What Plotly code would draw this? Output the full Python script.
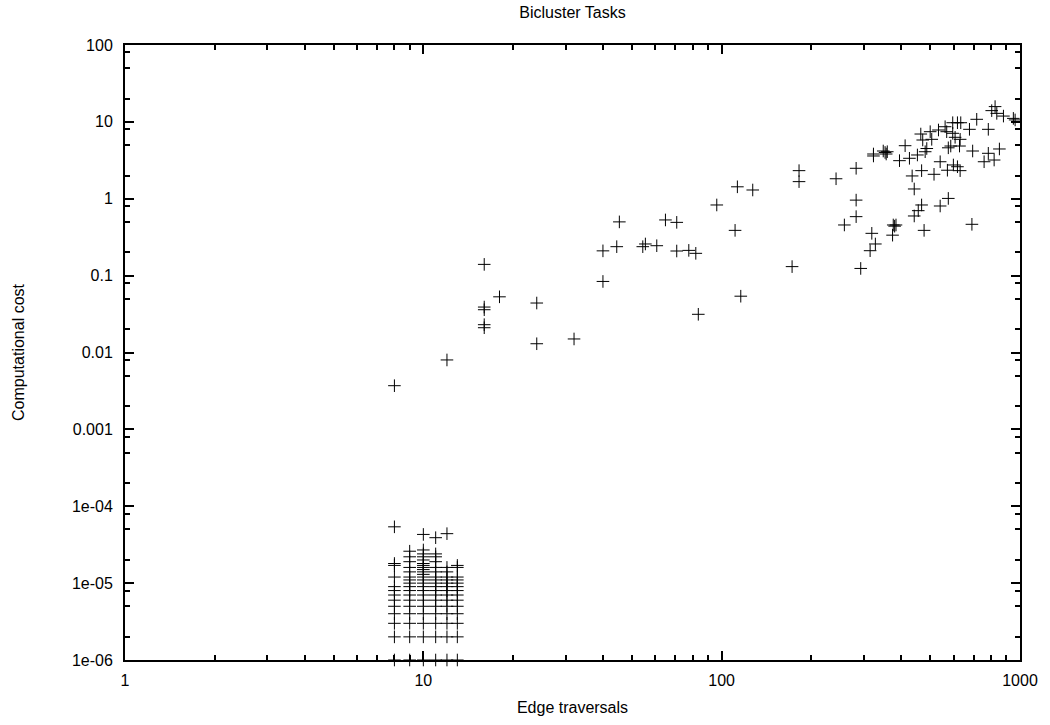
import plotly.graph_objects as go

# Tasks with measurable cost: (edge traversals, computational cost)
edge_traversals = [
    8, 12, 16, 16, 16, 16, 16, 18, 24, 24, 32,
    40, 40, 44.5, 45.4, 54.4, 55.5, 60.6, 64.8, 70.7, 70.7, 77.6, 81.9, 83.5,
    96.3, 110.9, 112.9, 115.9, 127.1, 172.2, 181.7, 181.7, 241.8, 257.8,
    282.3, 282.3, 282.3, 292.5, 314.5, 318.6, 327.5, 322.7, 322.7,
    348, 353, 356, 359, 374, 376, 380, 384, 394.5, 412, 426, 435, 442, 442,
    453, 456, 465, 468, 468, 472, 477, 481, 487, 500, 506, 515, 533, 540, 540,
    561, 568, 571, 575, 575, 586, 595, 595, 598, 606, 617, 617, 627, 630, 630,
    633, 677, 690, 694, 716, 758, 783, 783, 804, 819, 825, 836, 853, 880,
    950, 963,
]
computational_cost = [
    0.0037, 0.008, 0.14, 0.039, 0.036, 0.023, 0.021, 0.053, 0.044, 0.013, 0.015,
    0.21, 0.084, 0.238, 0.50, 0.238, 0.258, 0.245, 0.53, 0.493, 0.209, 0.213, 0.195, 0.0314,
    0.83, 0.388, 1.43, 0.054, 1.30, 0.131, 2.32, 1.67, 1.82, 0.456,
    2.49, 0.96, 0.585, 0.124, 0.211, 0.355, 0.258, 3.82, 3.6,
    4.18, 4.0, 3.82, 4.09, 0.336, 0.456, 0.44, 0.456, 3.13, 4.9, 3.36, 1.98, 1.34, 0.597,
    3.71, 0.70, 6.95, 2.32, 0.83, 5.81, 0.388, 4.09, 4.5, 7.45, 5.93, 2.08, 7.84, 3.03, 0.805,
    8.65, 7.45, 2.35, 4.6, 1.01, 4.85, 9.75, 7.1, 2.75, 6.3, 9.75, 2.61, 4.85, 5.93, 2.32,
    9.75, 8.0, 0.465, 4.18, 10.8, 3.03, 8.0, 3.9, 14.0, 3.19, 15.8, 12.9, 4.44, 11.9,
    11.1, 10.6,
]

# Very short tasks, timed at microsecond resolution, grouped by edge traversals
short_tasks = {
    8: [1e-06, 2e-06, 3e-06, 4e-06, 5e-06, 6e-06, 7e-06, 8e-06, 9e-06,
        1.2e-05, 1.7e-05, 1.8e-05, 5.4e-05],
    9: [1e-06, 2e-06, 3e-06, 4e-06, 5e-06, 6e-06, 7e-06, 8e-06, 9e-06,
        1e-05, 1.1e-05, 1.2e-05, 1.4e-05, 1.6e-05, 1.9e-05, 2.2e-05, 2.6e-05],
    10: [1e-06, 2e-06, 3e-06, 4e-06, 5e-06, 6e-06, 7e-06, 8e-06, 9e-06,
         1e-05, 1.1e-05, 1.2e-05, 1.3e-05, 1.4e-05, 1.5e-05, 1.6e-05, 1.7e-05,
         1.8e-05, 2e-05, 2.2e-05, 2.4e-05, 2.7e-05, 4.3e-05],
    11: [1e-06, 2e-06, 3e-06, 4e-06, 5e-06, 6e-06, 7e-06, 8e-06, 9e-06,
         1e-05, 1.1e-05, 1.2e-05, 1.4e-05, 1.6e-05, 1.9e-05, 2.2e-05, 2.4e-05, 3.9e-05],
    12: [1e-06, 2e-06, 3e-06, 4e-06, 5e-06, 6e-06, 7e-06, 8e-06, 9e-06,
         1e-05, 1.1e-05, 1.2e-05, 1.4e-05, 1.6e-05, 4.4e-05],
    13: [1e-06, 2e-06, 3e-06, 4e-06, 5e-06, 6e-06, 7e-06, 8e-06, 9e-06,
         1e-05, 1.1e-05, 1.2e-05, 1.6e-05, 1.7e-05],
}

x_major = [1, 10, 100, 1000]
x_major_text = ["1", "10", "100", "1000"]
x_minor = [2, 3, 4, 5, 6, 7, 8, 9, 20, 30, 40, 50, 60, 70, 80, 90,
           200, 300, 400, 500, 600, 700, 800, 900]
y_major = [1e-06, 1e-05, 1e-04, 0.001, 0.01, 0.1, 1, 10, 100]
y_major_text = ["1e-06", "1e-05", "1e-04", "0.001", "0.01", "0.1", "1", "10", "100"]
y_minor = [2e-06, 5e-06, 8e-06, 2e-05, 5e-05, 8e-05, 2e-04, 5e-04, 8e-04,
           0.002, 0.005, 0.008, 0.02, 0.05, 0.08, 0.2, 0.5, 0.8,
           2, 5, 8, 20, 50, 80]

all_x = list(edge_traversals)
all_y = list(computational_cost)
for traversals, costs in short_tasks.items():
    all_x += [traversals] * len(costs)
    all_y += costs

FONT = dict(family="Liberation Sans, Arial, Helvetica, sans-serif", size=16, color="black")

fig = go.Figure(
    go.Scatter(
        x=all_x, y=all_y, mode="markers", cliponaxis=False, showlegend=False,
        marker=dict(symbol="cross-thin", size=9, color="black",
                    line=dict(color="black", width=1)),
    )
)

axis_common = dict(
    type="log", showgrid=False, zeroline=False, showline=True,
    linecolor="black", linewidth=2, mirror="ticks",
    ticks="inside", ticklen=9, tickwidth=1.5, tickcolor="black",
    tickfont=FONT, tickmode="array",
)

fig.update_xaxes(
    **axis_common, range=[0, 3], tickvals=x_major, ticktext=x_major_text,
    ticklabelstandoff=5,
    minor=dict(tickmode="array", tickvals=x_minor, ticks="inside",
               ticklen=5, tickwidth=1.5, tickcolor="black"),
    title=dict(text="Edge traversals", font=FONT, standoff=14),
)
fig.update_yaxes(
    **axis_common, range=[-6, 2], tickvals=y_major, ticktext=y_major_text,
    ticklabelstandoff=7,
    minor=dict(tickmode="array", tickvals=y_minor, ticks="inside",
               ticklen=5, tickwidth=1.5, tickcolor="black"),
    title=dict(text="Computational cost", font=FONT, standoff=43),
)

fig.update_layout(
    width=1050, height=725,
    margin=dict(l=125, r=30, t=45, b=65),
    paper_bgcolor="white", plot_bgcolor="white",
    font=FONT,
    title=dict(text="Bicluster Tasks", font=FONT, x=0.5, xref="paper",
               y=1 - 12 / 725, yref="container", xanchor="center", yanchor="middle"),
)

fig.write_html("out.html")
